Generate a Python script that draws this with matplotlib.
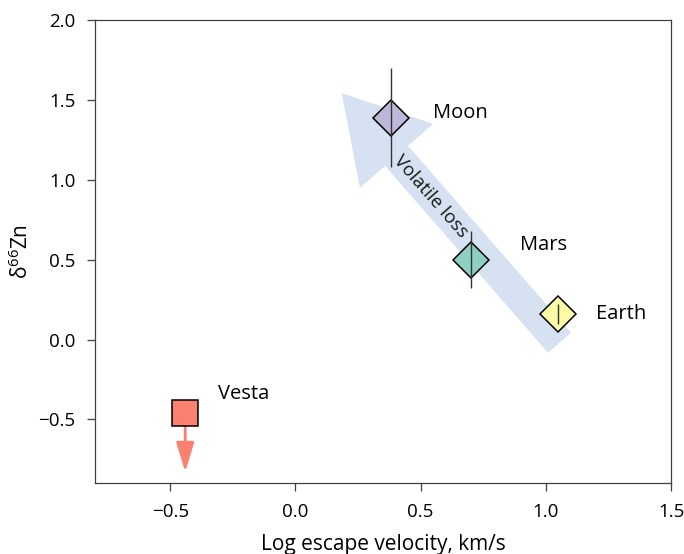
import matplotlib
matplotlib.use("Agg")
import matplotlib.pyplot as plt
from matplotlib.patches import FancyArrowPatch

plt.rcParams["font.family"] = ["Open Sans", "DejaVu Sans"]

# data
bodies = ["Moon", "Mars", "Earth"]
logVesc = [0.38, 0.70, 1.05]
d66Zn = [1.39, 0.50, 0.16]
errZn = [0.31, 0.18, 0.06]
colors = ["#bcb8d9", "#8bd0c2", "#fdfaa8"]
labelX = [0.55, 0.895, 1.20]
labelY = [1.42, 0.59, 0.16]

vestaX = -0.44
vestaY = -0.46
vestaLimit = -0.83
vestaColor = "#fa8072"

trendStart = (1.055, -0.02)
trendEnd = (0.185, 1.545)

fig, ax = plt.subplots(figsize=(6.84, 5.54), dpi=100)
fig.subplots_adjust(left=0.139, right=0.981, top=0.963, bottom=0.128)

# big volatile loss arrow
trend = FancyArrowPatch(
    trendStart, trendEnd,
    arrowstyle="simple,head_length=60,head_width=70,tail_width=22",
    mutation_scale=1, shrinkA=0, shrinkB=0,
    color="#d6e2f1", linewidth=0, zorder=1,
)
ax.add_patch(trend)
ax.text(0.54, 0.90, "Volatile loss", rotation=-48.8, rotation_mode="anchor",
        ha="center", va="center", fontsize=13.5, color="#1a1a1a", zorder=2)

# planets
for i in range(len(bodies)):
    ax.plot(logVesc[i], d66Zn[i], marker="D", markersize=18, color=colors[i],
            markeredgecolor="black", markeredgewidth=1.1, linestyle="none", zorder=3)
    ax.errorbar(logVesc[i], d66Zn[i], yerr=errZn[i], fmt="none", ecolor="#333333",
                elinewidth=1.0, capsize=0, zorder=4)
    ax.text(labelX[i], labelY[i], bodies[i], ha="left", va="center", fontsize=14.5)

# Vesta upper limit
ax.annotate("", xy=(vestaX, vestaLimit), xytext=(vestaX, vestaY),
            arrowprops=dict(arrowstyle="-|>,head_length=1.8,head_width=0.55",
                            color=vestaColor, lw=2, shrinkA=0, shrinkB=0,
                            mutation_scale=10),
            zorder=2)
ax.plot(vestaX, vestaY, marker="s", markersize=18.5, color=vestaColor,
        markeredgecolor="black", markeredgewidth=1.1, linestyle="none", zorder=3)
ax.text(-0.31, -0.34, "Vesta", ha="left", va="center", fontsize=14.5)

ax.set_xlim(-0.8, 1.5)
ax.set_ylim(-0.9, 2.0)
ax.set_xticks([-0.5, 0.0, 0.5, 1.0, 1.5])
ax.set_yticks([-0.5, 0.0, 0.5, 1.0, 1.5, 2.0])
ax.set_xticklabels(["\u22120.5", "0.0", "0.5", "1.0", "1.5"])
ax.set_yticklabels(["\u22120.5", "0.0", "0.5", "1.0", "1.5", "2.0"])
ax.tick_params(direction="out", length=6, width=0.9, color="#404040",
               labelsize=13.5, pad=8)
for s in ax.spines.values():
    s.set_color("#404040")
    s.set_linewidth(0.9)

ax.set_xlabel("Log escape velocity, km/s", fontsize=15, labelpad=10)
ax.set_ylabel(r"$\mathregular{\delta^{66}}$Zn", fontsize=15, labelpad=4)

fig.savefig("out.png", dpi=100)
